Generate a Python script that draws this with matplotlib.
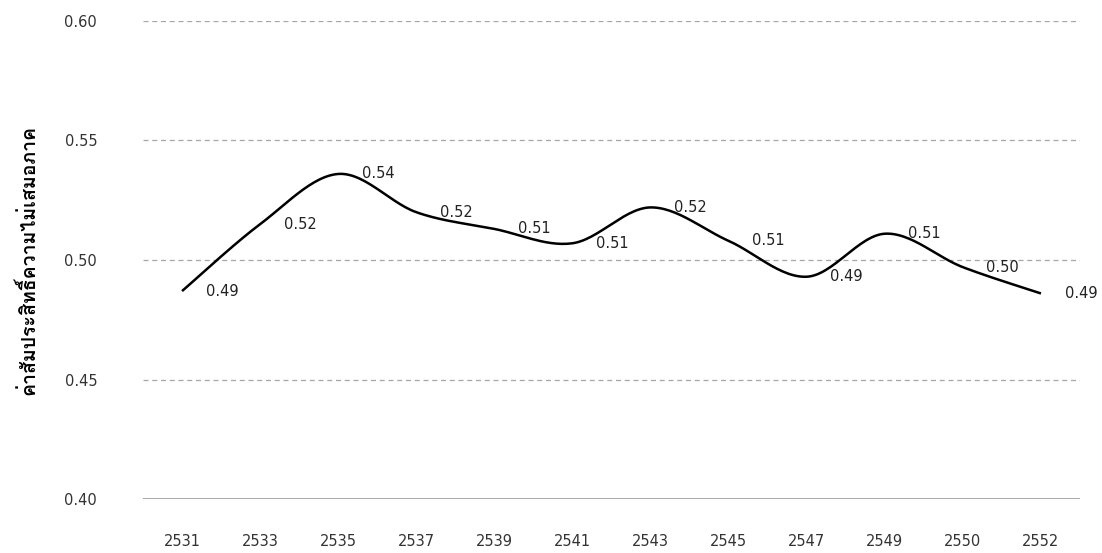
import numpy as np
import matplotlib
matplotlib.use('Agg')
import matplotlib.pyplot as plt
from matplotlib import font_manager
from matplotlib.ft2font import FT2Font

# data
years = ['2531', '2533', '2535', '2537', '2539', '2541', '2543', '2545', '2547', '2549', '2550', '2552']
gini = [0.487, 0.515, 0.536, 0.520, 0.513, 0.507, 0.522, 0.508, 0.493, 0.511, 0.497, 0.486]
y_ticks = [0.40, 0.45, 0.50, 0.55, 0.60]
y_label = 'ค่าสัมประสิทธิ์ความไม่เสมอภาค'

# find an installed font that has thai glyphs
thai_font = 'DejaVu Sans'
for f in font_manager.fontManager.ttflist:
    try:
        if 0x0E04 in FT2Font(f.fname).get_charmap():
            thai_font = f.name
            break
    except Exception:
        pass

# smooth line like a spreadsheet chart (catmull-rom as bezier)
def smooth(xs, ys, n=30):
    p = np.column_stack([xs, ys]).astype(float)
    p = np.vstack([p[0], p, p[-1]])
    out = []
    t = np.linspace(0, 1, n)[:, None]
    for i in range(1, len(p) - 2):
        p0, p1, p2, p3 = p[i - 1], p[i], p[i + 1], p[i + 2]
        c1 = p1 + (p2 - p0) / 6
        c2 = p2 - (p3 - p1) / 6
        seg = (1 - t)**3 * p1 + 3 * (1 - t)**2 * t * c1 + 3 * (1 - t) * t**2 * c2 + t**3 * p2
        out.append(seg if i == 1 else seg[1:])
    out = np.vstack(out)
    return out[:, 0], out[:, 1]

x = np.arange(len(years))
sx, sy = smooth(x, gini)

fig = plt.figure(figsize=(11.02, 5.53), dpi=100)
ax = fig.add_axes([143/1102, 1 - 499/553, (1080 - 143)/1102, (499 - 21)/553])

for v in y_ticks[1:]:
    ax.axhline(v, color='#a6a6a6', lw=0.9, ls=(0, (4, 3)), zorder=1)
ax.axhline(y_ticks[0], color='#9a9a9a', lw=1.2, zorder=1)

ax.plot(sx, sy, color='black', lw=1.8, zorder=3, solid_capstyle='butt')

for xi, v in zip(x, gini):
    ax.annotate(f'{v:.2f}', (xi, v), xytext=(17, 0), textcoords='offset points',
                ha='left', va='center', fontsize=10.5, color='#222222')

ax.set_xlim(-0.5, len(years) - 0.5)
ax.set_ylim(y_ticks[0], y_ticks[-1])
ax.set_yticks(y_ticks)
ax.set_yticklabels([f'{v:.2f}' for v in y_ticks])
ax.set_xticks(x)
ax.set_xticklabels(years)
ax.tick_params(axis='y', length=0, pad=33, labelsize=10.5, labelcolor='#333333')
ax.tick_params(axis='x', length=0, pad=25, labelsize=10.5, labelcolor='#333333')
for s in ax.spines.values():
    s.set_visible(False)

ax.set_ylabel(y_label, family=[thai_font, 'DejaVu Sans'], fontsize=14, fontweight='bold')
ax.yaxis.set_label_coords(-0.112, 0.5)

fig.savefig('out.png', dpi=100)
